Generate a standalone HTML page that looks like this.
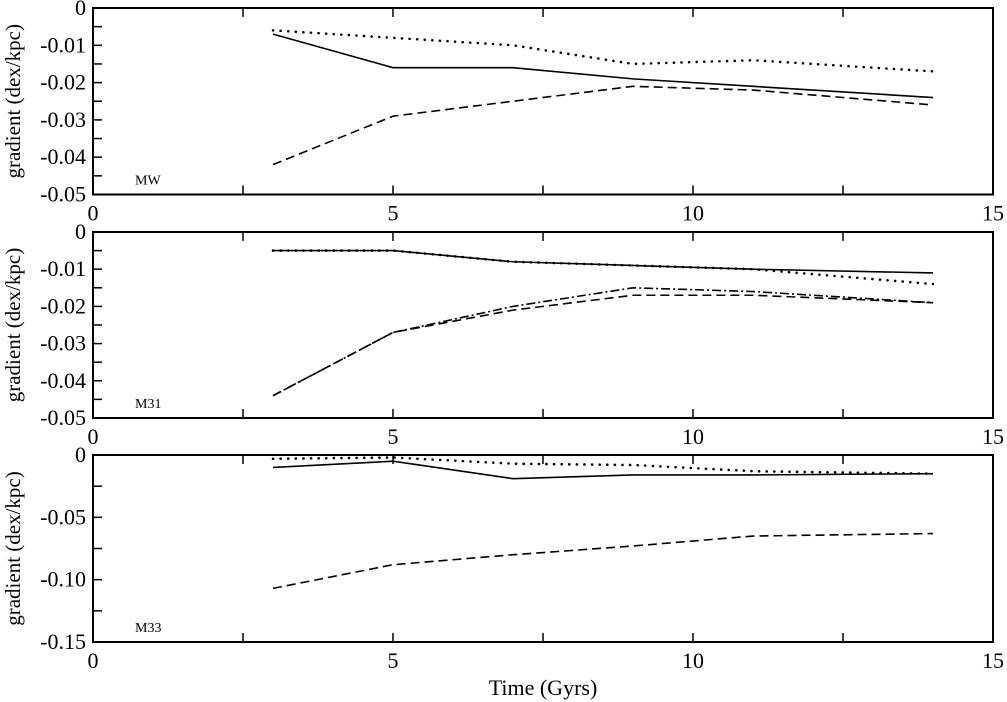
<!DOCTYPE html>
<html><head><meta charset="utf-8"><style>
html,body{margin:0;padding:0;background:#fff;}
svg{display:block;font-family:"Liberation Serif",serif;}
</style></head><body>
<svg id="chart" width="1007" height="702" viewBox="0 0 1007 702"></svg>
<script>
const times = [3, 5, 7, 9, 11, 14];
const mwSolid = [-0.007, -0.016, -0.016, -0.019, -0.021, -0.024];
const mwDotted = [-0.006, -0.008, -0.010, -0.015, -0.014, -0.017];
const mwDashed = [-0.042, -0.029, -0.025, -0.021, -0.022, -0.026];
const m31Solid = [-0.005, -0.005, -0.008, -0.009, -0.010, -0.011];
const m31Dotted = [-0.005, -0.005, -0.008, -0.009, -0.010, -0.014];
const m31Dashed = [-0.044, -0.027, -0.021, -0.017, -0.017, -0.019];
const m31DotDash = [-0.044, -0.027, -0.020, -0.015, -0.016, -0.019];
const m33Solid = [-0.010, -0.005, -0.019, -0.016, -0.016, -0.015];
const m33Dotted = [-0.003, -0.002, -0.007, -0.008, -0.013, -0.015];
const m33Dashed = [-0.107, -0.088, -0.080, -0.073, -0.065, -0.063];
const xTicks = [0, 5, 10, 15];
const yTicksSmall = ["0", "-0.01", "-0.02", "-0.03", "-0.04", "-0.05"];
const yTicksM33 = ["0", "-0.05", "-0.10", "-0.15"];

const svg = document.getElementById('chart');
const NS = 'http://www.w3.org/2000/svg';
function mk(tag, attrs, parent){const e=document.createElementNS(NS,tag);for(const k in attrs)e.setAttribute(k,attrs[k]);(parent||svg).appendChild(e);return e;}
const X0=93, X1=993;
const xs = v => X0 + (v/15)*(X1-X0);

const panels = [
 {name:'mw', label:'MW', top:8, bot:194.5, ymin:-0.05, ticks:yTicksSmall, minor:0.005,
  series:[[mwSolid,'solid'],[mwDotted,'dotted'],[mwDashed,'dashed']]},
 {name:'m31', label:'M31', top:232, bot:418, ymin:-0.05, ticks:yTicksSmall, minor:0.005,
  series:[[m31Solid,'solid'],[m31Dotted,'dotted'],[m31Dashed,'dashed'],[m31DotDash,'dotdash']]},
 {name:'m33', label:'M33', top:455, bot:642, ymin:-0.15, ticks:yTicksM33, minor:0.025,
  series:[[m33Solid,'solid'],[m33Dotted,'dotted'],[m33Dashed,'dashed']]}
];
const styles={solid:{d:'none',w:1.6,c:'butt'},dotted:{d:'0.1,7.5',w:2.6,c:'round'},dashed:{d:'9,5',w:1.6,c:'butt'},dotdash:{d:'9,3,2,3',w:1.6,c:'butt'}};
panels.forEach(p=>{
  const g = mk('g',{});
  
  
  const ys = v => p.top + (v/p.ymin)*(p.bot-p.top);
  for(let v=0; v>=p.ymin-1e-9; v-=p.minor){
    const y=ys(v); mk('line',{x1:X0,x2:X0+9,y1:y,y2:y,stroke:'#000','stroke-width':1.5},g);
  }
  for(let v=0; v<=15; v+=2.5){
    const x=xs(v);
    mk('line',{x1:x,x2:x,y1:p.top,y2:p.top+9,stroke:'#000','stroke-width':1.5},g);
    mk('line',{x1:x,x2:x,y1:p.bot,y2:p.bot-9,stroke:'#000','stroke-width':1.5},g);
  }
  p.ticks.forEach((t,i)=>{
    const v = p.ymin*i/(p.ticks.length-1);
    const tl = mk('text',{x:X0-7,y:ys(v)+7,'text-anchor':'end','font-size':22},g);
    tl.textContent=t;
    
    
  });
  xTicks.forEach(t=>{
    const tl = mk('text',{x:xs(t),y:p.bot+26,'text-anchor':'middle','font-size':22},g);
    tl.textContent=t;
    
    
  });
  p.series.forEach(s=>{
    const st = styles[s[1]];
    const pts = times.map((t,j)=>xs(t)+','+ys(s[0][j])).join(' ');
    const pl = mk('polyline',{points:pts,fill:'none',stroke:'#000','stroke-width':st.w,'stroke-dasharray':st.d,'stroke-linecap':st.c},g);
    
    
  });
  mk('rect',{x:X0,y:p.top,width:X1-X0,height:p.bot-p.top,fill:'none',stroke:'#000','stroke-width':2},g);
  const lb = mk('text',{x:X0+42,y:p.bot-10,'font-size':14},g);
  lb.textContent=p.label;
  
  
  const yt = mk('text',{x:0,y:0,'text-anchor':'middle','font-size':21,transform:'translate(20,'+((p.top+p.bot)/2)+') rotate(-90)'},g);
  yt.textContent='gradient (dex/kpc)';
  
  
});
const xt = mk('text',{x:543,y:695,'text-anchor':'middle','font-size':22});
xt.textContent='Time (Gyrs)';


</script>
</body></html>
